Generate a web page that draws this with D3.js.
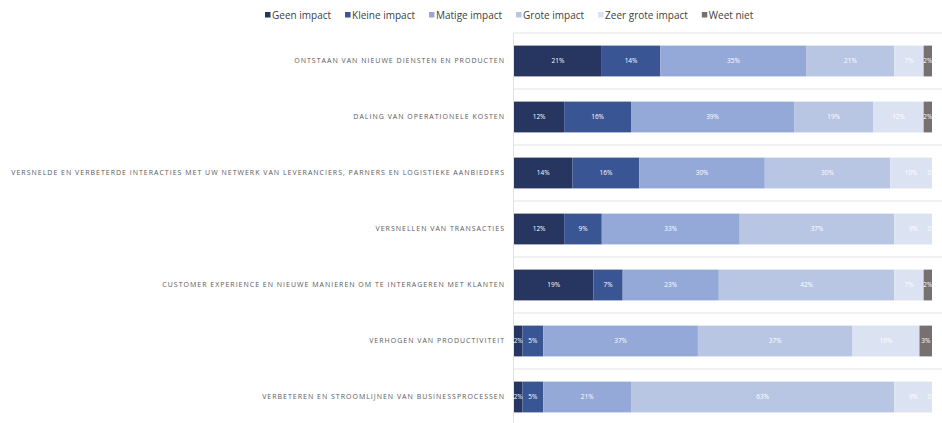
<!DOCTYPE html>
<html>
<head>
<meta charset="utf-8">
<script src="https://cdn.jsdelivr.net/npm/d3@7"></script>
<style>
  body { margin: 0; background: #fff; }
  svg { display: block; }
</style>
</head>
<body>
<svg id="chart"></svg>
<script>

// categories (top to bottom)
var categories = [
  'ONTSTAAN VAN NIEUWE DIENSTEN EN PRODUCTEN',
  'DALING VAN OPERATIONELE KOSTEN',
  'VERSNELDE EN VERBETERDE INTERACTIES MET UW NETWERK VAN LEVERANCIERS, PARNERS EN LOGISTIEKE AANBIEDERS',
  'VERSNELLEN VAN TRANSACTIES',
  'CUSTOMER EXPERIENCE EN NIEUWE MANIEREN OM TE INTERAGEREN MET KLANTEN',
  'VERHOGEN VAN PRODUCTIVITEIT',
  'VERBETEREN EN STROOMLIJNEN VAN BUSINESSPROCESSEN'
];

var seriesNames = ['Geen impact', 'Kleine impact', 'Matige impact', 'Grote impact', 'Zeer grote impact', 'Weet niet'];

// percentages per series, same order as categories
var geenImpact      = [21, 12, 14, 12, 19, 2, 2];
var kleineImpact    = [14, 16, 16, 9, 7, 5, 5];
var matigeImpact    = [35, 39, 30, 33, 23, 37, 21];
var groteImpact     = [21, 19, 30, 37, 42, 37, 63];
var zeerGroteImpact = [7, 12, 10, 9, 7, 16, 9];
var weetNiet        = [2, 2, 0, 0, 2, 3, 0];

var colours = ['#263660', '#3a5594', '#95a9d8', '#b8c6e4', '#dbe2f2', '#767170'];

var seriesValues = [geenImpact, kleineImpact, matigeImpact, groteImpact, zeerGroteImpact, weetNiet];

var width = 942,
    height = 423,
    margins = { top: 33, left: 514, right: 10, bottom: -3 };

var svg = d3.select('#chart')
    .attr('width', width)
    .attr('height', height);

// build rows for d3.stack
var rows = categories.map(function(c, i) {
  var row = { category: c };
  seriesNames.forEach(function(s, j) {
    row[s] = seriesValues[j][i];
  });
  return row;
});

var stacked = d3.stack().keys(seriesNames)(rows);

var xScale = d3.scaleLinear()
    .domain([0, 100])
    .range([margins.left, width - margins.right]);

var yScale = d3.scaleBand()
    .domain(categories)
    .range([margins.top, margins.top + 56 * categories.length])
    .paddingInner(0.45)
    .paddingOuter(0.225);

var colour = d3.scaleOrdinal().domain(seriesNames).range(colours);

// separators between rows
var bandStep = yScale.step();
svg.append('g')
  .selectAll('line')
  .data(categories)
  .enter().append('line')
    .attr('x1', margins.left)
    .attr('x2', width)
    .attr('y1', function(d) { return yScale(d) - yScale.paddingOuter() * bandStep; })
    .attr('y2', function(d) { return yScale(d) - yScale.paddingOuter() * bandStep; })
    .attr('stroke', '#e3e3e3')
    .attr('stroke-width', 1);

// vertical axis line
svg.append('line')
    .attr('x1', xScale(0) - 0.5)
    .attr('x2', xScale(0) - 0.5)
    .attr('y1', margins.top)
    .attr('y2', height)
    .attr('stroke', '#e3e3e3');

// y axis labels
var yAxis = d3.axisLeft(yScale).tickSize(0).tickPadding(9);
var yg = svg.append('g')
    .attr('transform', 'translate(' + xScale(0) + ',0)')
    .call(yAxis);
yg.select('.domain').remove();
yg.selectAll('text')
    .attr('fill', '#595959')
    .style('font-family', '"Open Sans", sans-serif')
    .style('font-size', '7px')
    .style('letter-spacing', '1px');

// bars
var layer = svg.append('g')
  .selectAll('g')
  .data(stacked)
  .enter().append('g')
    .attr('fill', function(d) { return colour(d.key); });

layer.selectAll('rect')
  .data(function(d) { return d; })
  .enter().append('rect')
    .attr('x', function(d) { return xScale(d[0]); })
    .attr('y', function(d) { return yScale(d.data.category); })
    .attr('width', function(d) { return xScale(d[1]) - xScale(d[0]); })
    .attr('height', yScale.bandwidth());

// value labels
var labels = svg.append('g');
stacked.forEach(function(s) {
  labels.selectAll(null)
    .data(s)
    .enter().append('text')
      .attr('x', function(d) { return (xScale(d[0]) + xScale(d[1])) / 2; })
      .attr('y', function(d) { return yScale(d.data.category) + yScale.bandwidth() / 2; })
      .attr('dy', '0.35em')
      .attr('text-anchor', 'middle')
      .attr('fill', '#fff')
      .style('font-family', '"Open Sans", sans-serif')
      .style('font-size', '6.5px')
      .text(function(d) { return (d[1] - d[0]) + '%'; });
});

// legend
var legend = svg.append('g').attr('transform', 'translate(265,15)');
var lx = 0;
seriesNames.forEach(function(name, i) {
  var item = legend.append('g').attr('transform', 'translate(' + lx + ',0)');
  item.append('rect')
      .attr('x', 0)
      .attr('y', -3)
      .attr('width', 5.5)
      .attr('height', 5.5)
      .attr('fill', colours[i]);
  var t = item.append('text')
      .attr('x', 7)
      .attr('dy', '0.35em')
      .attr('fill', '#404040')
      .style('font-family', '"Open Sans", sans-serif')
      .style('font-size', '10px')
      .text(name);
  lx += 7 + t.node().getComputedTextLength() + 14;
});

</script>
</body>
</html>
